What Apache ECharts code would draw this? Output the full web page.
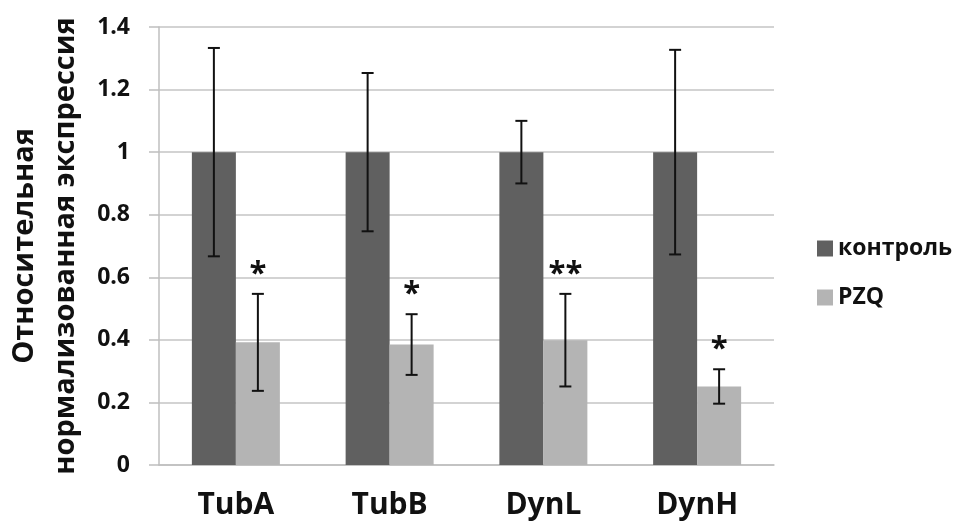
<!DOCTYPE html>
<html>
<head>
<meta charset="utf-8">
<script src="https://cdn.jsdelivr.net/npm/echarts@6/dist/echarts.min.js"></script>
<style>
  html, body { margin: 0; padding: 0; background: #fff; }
  #chart { width: 962px; height: 527px; }
</style>
</head>
<body>
<div id="chart"></div>
<script>
// data
var genes = ["TubA", "TubB", "DynL", "DynH"];
var controlMean = [1, 1, 1, 1];
var controlErr = [0.333, 0.253, 0.1, 0.327];
var pzqMean = [0.392, 0.385, 0.399, 0.251];
var pzqErr = [0.155, 0.097, 0.148, 0.055];
var pzqStars = ["*", "*", "**", "*"];
var yTicks = ["0", "0.2", "0.4", "0.6", "0.8", "1", "1.2", "1.4"];

var chart = echarts.init(document.getElementById("chart"));

var BAR_W = 44;
var FONT = "'Open Sans', 'Noto Sans', sans-serif";

function errorSeries(name, means, errs, side, stars) {
  var data = means.map(function (m, i) {
    return [i, m - errs[i], m + errs[i]];
  });
  return {
    type: "custom",
    name: name + "_err",
    silent: true,
    z: 10,
    data: data,
    renderItem: function (params, api) {
      var i = api.value(0);
      var lo = api.coord([i, api.value(1)]);
      var hi = api.coord([i, api.value(2)]);
      var x = lo[0] + side * BAR_W / 2;
      var cap = 6;
      var style = { stroke: "#111", lineWidth: 2 };
      var children = [
        { type: "line", shape: { x1: x, y1: hi[1], x2: x, y2: lo[1] }, style: style },
        { type: "line", shape: { x1: x - cap, y1: hi[1], x2: x + cap, y2: hi[1] }, style: style },
        { type: "line", shape: { x1: x - cap, y1: lo[1], x2: x + cap, y2: lo[1] }, style: style }
      ];
      if (stars && stars[params.dataIndex]) {
        children.push({
          type: "text",
          style: {
            x: x,
            y: hi[1] - 20,
            text: stars[params.dataIndex],
            fill: "#111",
            font: "bold 31px " + FONT,
            align: "center",
            verticalAlign: "middle"
          }
        });
      }
      return { type: "group", children: children };
    }
  };
}

var option = {
  animation: false,
  textStyle: { fontFamily: FONT },
  grid: { left: 159, right: 188, top: 27, bottom: 62, outerBoundsMode: "none", containLabel: false },
  legend: {
    orient: "vertical",
    left: 812,
    top: 232,
    itemWidth: 16,
    itemHeight: 16,
    itemGap: 26,
    icon: "rect",
    data: ["контроль", "PZQ"],
    textStyle: { fontSize: 23, fontWeight: "bold", color: "#111", fontFamily: FONT }
  },
  xAxis: {
    type: "category",
    data: genes,
    axisLine: { lineStyle: { color: "#bfbfbf", width: 1.5 } },
    axisTick: { show: false },
    axisLabel: { fontSize: 30, fontWeight: "bold", color: "#111", margin: 25 }
  },
  yAxis: {
    type: "value",
    min: 0,
    max: 1.4,
    interval: 0.2,
    name: "Относительная\nнормализованная экспрессия",
    nameLocation: "middle",
    nameRotate: 90,
    nameGap: 70,
    nameTextStyle: { fontSize: 29, fontWeight: "bold", color: "#111", lineHeight: 41 },
    axisLine: { show: true, lineStyle: { color: "#bfbfbf", width: 1.5 } },
    axisTick: { show: true, length: 10, lineStyle: { color: "#bfbfbf", width: 1.5 } },
    splitLine: { lineStyle: { color: "#c4c4c4", width: 1.5 } },
    axisLabel: {
      fontSize: 23,
      fontWeight: "bold",
      color: "#111",
      margin: 29,
      formatter: function (v) { return yTicks[Math.round(v / 0.2)]; }
    }
  },
  series: [
    {
      type: "bar",
      name: "контроль",
      data: controlMean,
      barWidth: BAR_W,
      barGap: "0%",
      itemStyle: { color: "#606060" }
    },
    {
      type: "bar",
      name: "PZQ",
      data: pzqMean,
      barWidth: BAR_W,
      barGap: "0%",
      itemStyle: { color: "#b4b4b4" }
    },
    errorSeries("контроль", controlMean, controlErr, -1, null),
    errorSeries("PZQ", pzqMean, pzqErr, 1, pzqStars)
  ]
};

chart.setOption(option);
</script>
</body>
</html>
